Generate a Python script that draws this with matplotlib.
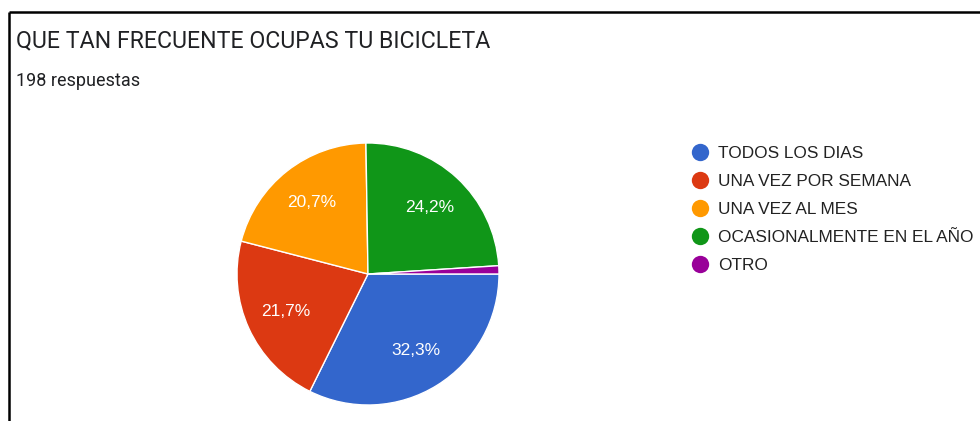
import matplotlib.pyplot as plt
from matplotlib.lines import Line2D

plt.rcParams["font.family"] = ["Roboto", "DejaVu Sans"]

title = "QUE TAN FRECUENTE OCUPAS TU BICICLETA"
subtitle = "198 respuestas"
labels = ["TODOS LOS DIAS", "UNA VEZ POR SEMANA", "UNA VEZ AL MES",
          "OCASIONALMENTE EN EL AÑO", "OTRO"]
counts = [64, 43, 41, 48, 2]
colors = ["#3366cc", "#dc3912", "#ff9900", "#109618", "#990099"]

W, H = 980, 421
fig = plt.figure(figsize=(W / 100, H / 100), dpi=100)

# overlay in pixel coordinates for border, titles and legend
ov = fig.add_axes([0, 0, 1, 1])
ov.set_xlim(0, W)
ov.set_ylim(H, 0)
ov.axis("off")

ov.plot([9, W], [12, 12], color="black", lw=1.8, solid_capstyle="butt")
ov.plot([9, 9], [12, H], color="black", lw=1.8, solid_capstyle="butt")

ov.text(16, 41, title, fontsize=16.7, color="#202124", va="center", ha="left")
ov.text(16, 81, subtitle, fontsize=13, color="#202124", va="center", ha="left")

for i, (lab, col) in enumerate(zip(labels, colors)):
    y = 152 + 28 * i
    ov.add_line(Line2D([700], [y], marker="o", markersize=12.5, color=col,
                       markeredgewidth=0))
    ov.text(718, y + 1, lab, fontsize=12.4, color="#222222", va="center",
            ha="left", family="Liberation Sans")

# pie, centre (368, 274) radius 131 px
cx, cy, r = 368, 274, 131
ax = fig.add_axes([(cx - r) / W, (H - cy - r) / H, 2 * r / W, 2 * r / H])


def fmt(p):
    return "" if p < 5 else f"{p:.1f}%".replace(".", ",")


wedges, _, autotexts = ax.pie(
    counts, colors=colors, startangle=0, counterclock=False,
    autopct=fmt, pctdistance=0.69,
    wedgeprops=dict(edgecolor="white", linewidth=1),
    textprops=dict(color="white", fontsize=12.5, family="Liberation Sans"),
)
ax.set_xlim(-1, 1)
ax.set_ylim(-1, 1)

fig.savefig("out.png", dpi=100)
